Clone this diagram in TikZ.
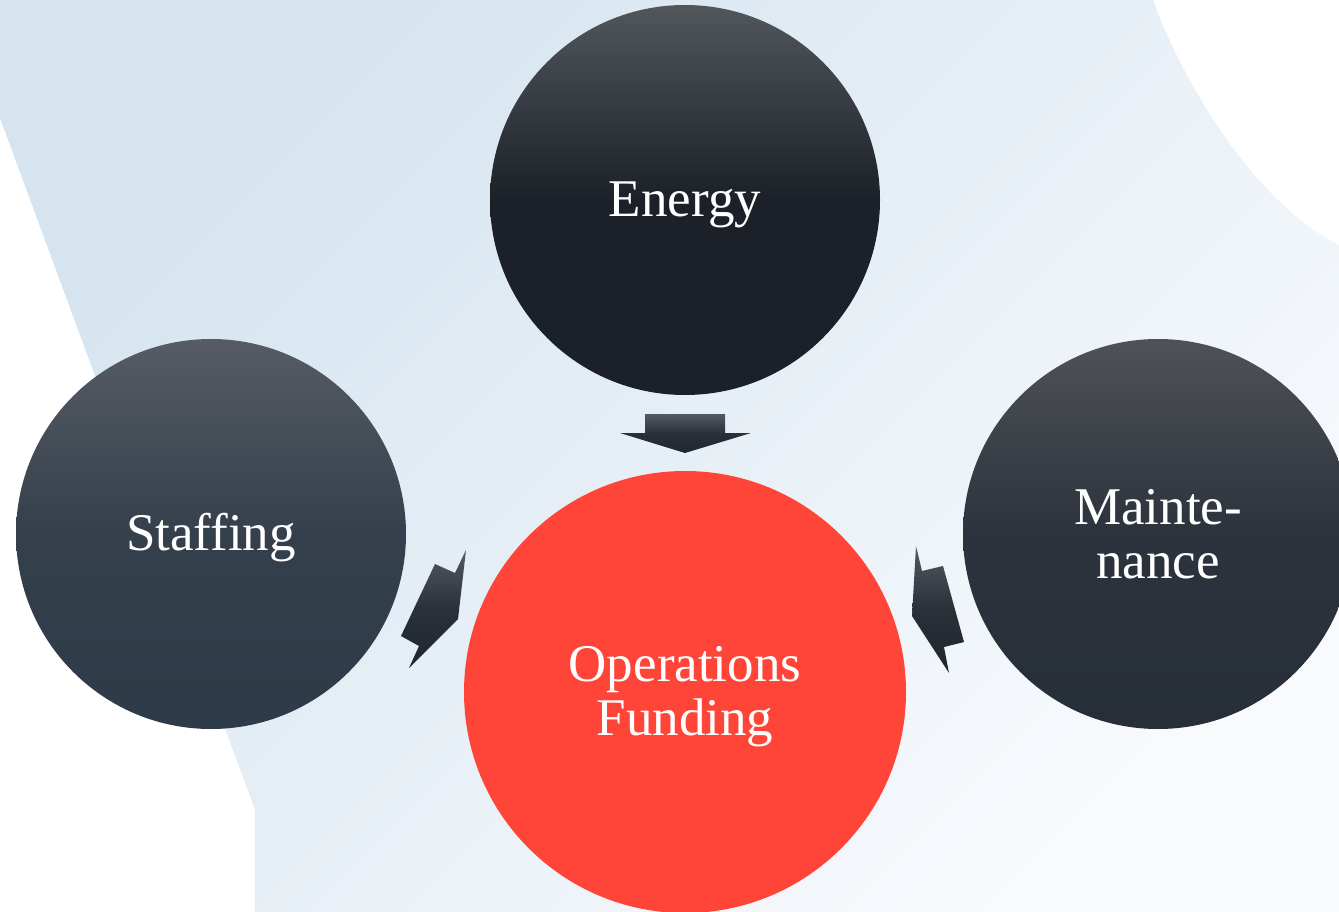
\documentclass[tikz,border=0pt]{standalone}
\usepackage{fontspec}
\setmainfont{Liberation Serif}
\usepackage{tikz}
\definecolor{bgtl}{rgb}{0.835,0.894,0.937}
\definecolor{bgbr}{rgb}{0.973,0.980,0.992}
\definecolor{balltop}{rgb}{0.32,0.34,0.36}
\definecolor{ballbot}{rgb}{0.11,0.13,0.16}
\definecolor{stafftop}{rgb}{0.34,0.36,0.39}
\definecolor{staffbot}{rgb}{0.18,0.23,0.28}
\definecolor{mainttop}{rgb}{0.31,0.32,0.34}
\definecolor{maintbot}{rgb}{0.15,0.18,0.22}
\definecolor{opsred}{rgb}{1.,0.267,0.22}
\definecolor{arrtop}{rgb}{0.33,0.35,0.38}
\definecolor{arrbot}{rgb}{0.12,0.15,0.18}

\begin{document}
\begin{tikzpicture}[line cap=round,line join=round,x=1pt,y=-1pt,
  ball/.style={circle,minimum size=390pt,inner sep=0pt},
  balltext/.style={text=white,align=center,inner sep=0pt,
    font=\fontsize{53}{54}\selectfont},
  blockarrow/.style={top color=arrtop,bottom color=arrbot,middle color=arrbot!80!arrtop}]
\useasboundingbox (0,0) rectangle (1339,912);
\clip (0,0) rectangle (1339,912);
% backdrop
\shade[top color=bgtl,bottom color=bgbr,shading angle=45] (0,0) -- (1153,0) .. controls (1180,75) and (1250,200) .. (1339,245) -- (1339,912) -- (255,912) -- (255,810) -- (0,118) -- cycle;
% circles
\node[ball,top color=balltop,bottom color=ballbot,middle color=ballbot,
  label={[balltext,yshift=-5pt]center:Energy}] (energy) at (685,200) {};
\node[ball,top color=stafftop,bottom color=staffbot,middle color=staffbot!85!stafftop,
  label={[balltext,yshift=-4pt]center:Staffing}] (staffing) at (211,534) {};
\node[ball,top color=mainttop,bottom color=maintbot,middle color=maintbot!85!mainttop,
  label={[balltext]center:Mainte-\\nance}] (maint) at (1158,534) {};
\node[ball,fill=opsred,minimum size=442pt,
  label={[balltext,yshift=-5pt]center:Operations\\Funding}] (ops) at (685,692) {};
% arrows
\shade[blockarrow] (645,414) -- (725,414) -- (725,433) -- (751,433) -- (685,453) -- (620,433) -- (645,433) -- cycle;
\shade[blockarrow] (466,550) -- (458,619) -- (409,668) -- (419,646) -- (401,636) -- (435,564) -- (455,573) -- cycle;
\shade[blockarrow] (916,546) -- (922,571) -- (943,566) -- (964,642) -- (944,647) -- (949,673) -- (912,616) -- cycle;
\end{tikzpicture}
\end{document}
